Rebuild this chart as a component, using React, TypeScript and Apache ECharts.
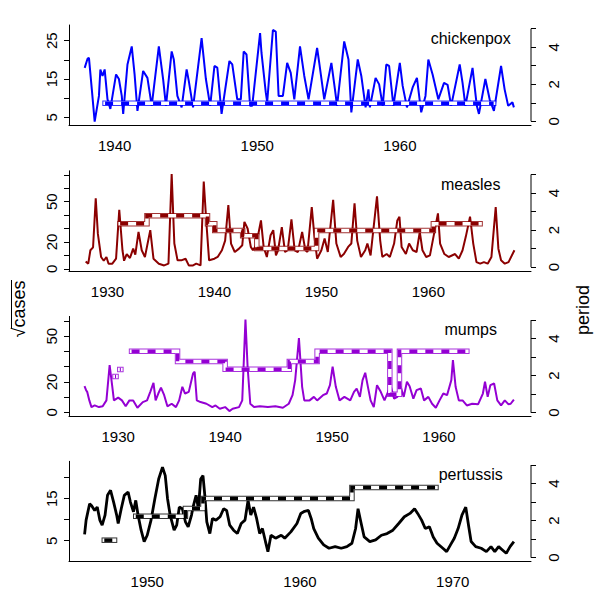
import React, { useEffect, useRef } from "react";
import * as echarts from "echarts";

// ---------- data (years, sqrt(cases)) ----------
const chickenpoxCases: number[][] = [
  [1937.9,17.9],[1938.1,20.3],[1938.2,20.5],[1938.4,12.3],[1938.6,3.9],[1938.9,10.6],[1939.0,17.5],[1939.15,15.8],[1939.3,17.5],[1939.5,9.7],[1939.7,7.2],[1940.1,16.2],[1940.3,15.0],[1940.5,10.6],[1940.6,5.9],[1940.9,18.8],[1941.2,23.5],[1941.4,16.2],[1941.6,6.7],[1942.0,17.1],[1942.3,15.3],[1942.6,8.0],[1943.1,23.5],[1943.4,15.0],[1943.6,8.0],[1944.0,22.2],[1944.15,20.1],[1944.4,10.6],[1944.7,7.6],[1945.05,17.5],[1945.2,14.5],[1945.5,7.6],[1946.1,25.7],[1946.4,15.0],[1946.7,8.0],[1947.0,18.4],[1947.2,18.0],[1947.5,5.9],[1948.05,19.7],[1948.25,18.8],[1948.6,9.7],[1948.85,9.7],[1949.05,22.2],[1949.25,21.4],[1949.5,8.0],[1949.65,8.0],[1950.2,27.0],[1950.3,21.8],[1950.6,11.5],[1950.7,9.0],[1951.1,27.8],[1951.3,27.4],[1951.5,10.6],[1951.8,10.6],[1952.1,19.2],[1952.35,16.6],[1952.6,9.7],[1953.0,23.5],[1953.3,15.8],[1953.6,9.7],[1954.2,23.1],[1954.35,19.2],[1954.7,9.7],[1955.2,19.2],[1955.45,12.3],[1955.6,8.0],[1956.1,24.8],[1956.4,20.1],[1956.6,6.3],[1957.05,20.1],[1957.3,15.8],[1957.6,7.6],[1957.8,12.3],[1957.9,7.6],[1958.3,15.3],[1958.55,13.6],[1958.8,8.0],[1959.05,18.8],[1959.25,18.4],[1959.55,8.0],[1960.0,19.2],[1960.2,13.2],[1960.5,7.6],[1960.9,12.8],[1961.2,15.3],[1961.5,6.3],[1961.8,10.6],[1962.0,20.1],[1962.3,16.2],[1962.7,9.7],[1963.1,14.0],[1963.35,13.5],[1963.6,8.0],[1964.2,18.8],[1964.4,14.0],[1964.6,8.0],[1965.1,17.9],[1965.4,8.0],[1965.55,5.9],[1966.0,15.0],[1966.3,9.7],[1966.6,6.7],[1967.1,18.4],[1967.35,12.3],[1967.6,8.0],[1967.9,8.9],[1968.0,7.6]
];
const measlesCases: number[][] = [
  [1927.96,5.5],[1928.2,3.8],[1928.4,13.8],[1928.65,16],[1928.9,52.5],[1929.1,26],[1929.4,8.8],[1929.65,6],[1929.9,8.8],[1930.1,3.8],[1930.45,3.8],[1930.8,7.5],[1931.1,44],[1931.4,13.8],[1931.55,6],[1931.8,11],[1932.1,8],[1932.4,15],[1932.6,10.5],[1932.9,27.5],[1933.2,13.8],[1933.5,8.8],[1934.0,28.8],[1934.3,7.5],[1934.8,3.8],[1935.3,2.5],[1935.7,3.8],[1936.0,70.5],[1936.25,18.8],[1936.55,6.3],[1936.9,6.3],[1937.3,7.5],[1937.6,2.5],[1938.0,2.5],[1938.3,3.8],[1938.7,2.5],[1939.0,65],[1939.25,33.8],[1939.5,6.3],[1940.0,7.5],[1940.3,8.8],[1940.7,13.8],[1941.0,21],[1941.3,47.5],[1941.55,18.8],[1941.9,12.5],[1942.3,15],[1942.6,17.5],[1942.8,35],[1943.1,30],[1943.4,16.3],[1943.6,13.8],[1943.9,17.5],[1944.35,36],[1944.6,16.3],[1944.9,8.8],[1945.25,25],[1945.5,28.8],[1945.75,10],[1945.95,13.8],[1946.3,31],[1946.6,12.5],[1946.85,13.8],[1947.2,36.8],[1947.5,13.8],[1947.8,12.5],[1948.2,27.5],[1948.5,13.8],[1948.7,12.5],[1949.1,46],[1949.35,23.8],[1949.6,7.5],[1950.0,13.8],[1950.3,22.5],[1950.6,12.5],[1951.1,51.3],[1951.4,18.8],[1951.8,8.8],[1952.1,11],[1952.5,16.3],[1952.8,18.8],[1953.1,48.8],[1953.35,21],[1953.7,8.8],[1954.1,13.8],[1954.3,18.8],[1954.6,10],[1955.2,54],[1955.5,21],[1955.7,8.8],[1956.1,11],[1956.4,8.8],[1956.8,18.8],[1957.1,36],[1957.3,38.8],[1957.5,16.3],[1957.9,11],[1958.2,18.8],[1958.55,13.8],[1958.9,12.5],[1959.2,27.5],[1959.45,13.8],[1959.8,8.8],[1960.15,10],[1960.6,28.8],[1960.9,41.3],[1961.1,18.8],[1961.5,11],[1961.9,8.8],[1962.5,11],[1962.85,7.5],[1963.2,13.8],[1963.5,23.8],[1963.9,38.8],[1964.2,18.8],[1964.5,5],[1964.85,3.8],[1965.2,5],[1965.55,3.8],[1965.9,8.8],[1966.3,46],[1966.55,15],[1966.8,6.3],[1967.15,3.8],[1967.5,5],[1968.05,13.8]
];
const mumpsCases: number[][] = [
  [1926.85,17.2],[1927.0,14.6],[1927.1,13.5],[1927.3,7.9],[1927.5,3.5],[1927.8,4.6],[1928.2,3.5],[1928.55,4],[1928.9,7.9],[1929.2,31.1],[1929.45,16.8],[1929.6,7.9],[1930.0,9.7],[1930.35,7.9],[1930.7,4],[1931.05,7.9],[1931.4,7.9],[1931.8,3.1],[1932.3,6.8],[1932.7,7.9],[1933.0,13.5],[1933.3,19.4],[1933.5,7.9],[1933.75,12.4],[1934.0,16.3],[1934.3,11.3],[1934.6,4],[1935.0,5.7],[1935.4,3.5],[1935.7,7.9],[1936.0,16.8],[1936.25,12.4],[1936.6,13.5],[1937.0,25.6],[1937.15,26.7],[1937.35,7.9],[1937.7,6.8],[1938.25,5.7],[1938.8,3.5],[1939.1,4.6],[1939.5,2.4],[1940.0,3.5],[1940.4,0.9],[1940.7,2.4],[1941.3,3.5],[1941.6,7.9],[1941.9,61],[1942.1,30],[1942.35,5.7],[1942.7,3.5],[1943.25,4],[1944.0,3.5],[1944.7,4],[1945.4,3.1],[1945.95,5.7],[1946.3,11.3],[1946.55,21.2],[1946.9,48.8],[1947.2,16.8],[1947.4,7.9],[1947.9,7.9],[1948.3,10.2],[1948.6,7.9],[1949.15,11.3],[1949.5,12.4],[1949.8,17.9],[1950.05,30],[1950.35,16.8],[1950.7,7.9],[1951.15,10.2],[1951.7,7.9],[1952.05,13.5],[1952.3,15.7],[1952.6,10.2],[1952.85,21.2],[1953.1,26],[1953.35,16.8],[1953.6,7.9],[1953.9,3.5],[1954.2,17.9],[1954.55,13.5],[1954.9,7.9],[1955.3,14.6],[1955.5,16.8],[1955.8,9],[1956.1,10.2],[1956.4,17.2],[1956.7,10.2],[1957.0,20.1],[1957.25,17.2],[1957.6,9],[1957.9,14.6],[1958.3,15.7],[1958.6,7.9],[1959.0,10.2],[1959.35,5.7],[1959.7,3.1],[1960.05,7.9],[1960.4,12.4],[1960.75,11.3],[1961.15,21.2],[1961.3,34.4],[1961.55,16.8],[1961.85,7.9],[1962.2,7.9],[1962.6,4.6],[1963.1,5.7],[1963.65,5.3],[1964.1,12.4],[1964.3,20.1],[1964.55,10.2],[1964.8,17.9],[1965.15,19],[1965.45,7.9],[1965.8,4.6],[1966.15,7.9],[1966.5,5.3],[1966.7,5.7],[1967.0,8.4]
];
const pertussisCases: number[][] = [
  [1945.9,6.5],[1946.0,9.9],[1946.23,13.8],[1946.35,13.4],[1946.56,12.2],[1946.73,13],[1946.9,9.9],[1947.05,8.7],[1947.24,11.1],[1947.4,15.8],[1947.6,17],[1947.8,14.2],[1948.0,11.1],[1948.1,9.1],[1948.3,12.6],[1948.5,15.8],[1948.75,16.6],[1948.9,14.2],[1949.1,11.9],[1949.25,14.6],[1949.4,11.1],[1949.6,7.5],[1949.8,4.8],[1950.0,6.3],[1950.25,9.9],[1950.5,15],[1950.75,19.7],[1951.0,22.5],[1951.18,20.5],[1951.33,15],[1951.5,11.1],[1951.76,7.5],[1951.93,8.7],[1952.1,13],[1952.3,12.6],[1952.5,9.5],[1952.68,8.3],[1952.9,11.1],[1953.0,13],[1953.2,15.8],[1953.35,12.6],[1953.5,19.7],[1953.65,20.5],[1953.77,15.8],[1953.9,9.5],[1954.1,6.7],[1954.27,10.3],[1954.5,9.9],[1954.77,10.7],[1955.0,12.6],[1955.2,12.2],[1955.4,8.7],[1955.65,7.5],[1955.9,6.7],[1956.15,9.1],[1956.4,9.9],[1956.6,14.6],[1956.78,11.1],[1956.96,13],[1957.16,10.3],[1957.36,6.7],[1957.54,7.9],[1957.74,4.8],[1957.9,2.4],[1958.1,6.3],[1958.4,5.6],[1958.77,6.3],[1959.0,5.6],[1959.4,7.1],[1959.8,9.1],[1960.05,11.5],[1960.3,12],[1960.55,12.2],[1960.73,10.3],[1960.9,7.9],[1961.2,5.6],[1961.55,4],[1961.9,3.2],[1962.3,3.6],[1962.7,3.2],[1963.07,3.6],[1963.4,4.4],[1963.64,7.9],[1963.8,12.6],[1963.98,9.5],[1964.2,5.9],[1964.57,4.8],[1964.95,5.2],[1965.33,6.3],[1965.7,6.7],[1966.08,7.5],[1966.46,9.1],[1966.83,10.7],[1967.2,11.5],[1967.5,12.6],[1967.7,11.5],[1967.96,9.9],[1968.2,7.9],[1968.47,8.3],[1968.72,5.9],[1968.97,4.4],[1969.35,3.2],[1969.6,2.4],[1969.85,4],[1970.1,5.6],[1970.35,7.9],[1970.6,11.1],[1970.85,13],[1971.03,8.7],[1971.2,4.8],[1971.5,3.6],[1971.86,3.2],[1972.2,2.4],[1972.5,3.6],[1972.75,2.4],[1973.0,3.6],[1973.25,2.8],[1973.5,2],[1973.75,3.6],[1974.0,4.8]
];

// ---------- dominant period steps: [start year, end year, period] ----------
const chickenpoxPeriod: number[][] = [[1939.33, 1966.58, 0.97]];
const measlesPeriod: number[][] = [
  [1931.18, 1933.69, 2.34], [1933.69, 1939.35, 2.77], [1939.35, 1940.03, 2.34],
  [1940.03, 1942.64, 1.98], [1942.64, 1943.96, 1.69], [1943.96, 1949.55, 1.0],
  [1949.55, 1960.47, 1.98], [1960.47, 1964.84, 2.34]
];
const mumpsPeriod: number[][] = [
  [1929.7, 1929.8, 1.95], [1930.15, 1930.25, 2.33],
  [1931.25, 1935.55, 3.32], [1935.55, 1940.0, 2.77], [1940.0, 1946.0, 2.35],
  [1946.0, 1948.6, 2.77], [1948.6, 1955.4, 3.32], [1955.4, 1956.3, 0.99],
  [1956.3, 1962.6, 3.32]
];
const pertussisPeriod: number[][] = [
  [1947.19, 1947.86, 0.94],
  [1949.25, 1952.5, 2.23], [1952.5, 1953.65, 2.65], [1953.65, 1963.4, 3.19],
  [1963.4, 1968.9, 3.78]
];

const diseaseNames = ["chickenpox", "measles", "mumps", "pertussis"];
const diseaseColors = ["#0000FF", "#8B0000", "#9400D3", "#000000"];
const casesData = [chickenpoxCases, measlesCases, mumpsCases, pertussisCases];
const periodData = [chickenpoxPeriod, measlesPeriod, mumpsPeriod, pertussisPeriod];
const xRanges = [[1936.8, 1969.2], [1926.4, 1969.6], [1925.4, 1968.6], [1944.88, 1975.12]];
const yRanges = [[3.0, 29.1], [-1.5, 73], [-2.6, 63], [0.1, 23.9]];
const xLabels = [[1940, 1950, 1960], [1930, 1940, 1950, 1960], [1930, 1940, 1950, 1960], [1950, 1960, 1970]];
const yTicks = [[5, 10, 15, 20, 25], [0, 10, 20, 30, 40, 50, 60, 70], [0, 10, 20, 30, 40, 50, 60], [5, 10, 15, 20]];
const yLabels = [[5, 15, 25], [0, 20, 50], [0, 20, 50], [5, 15]];
const periodTicks = [0, 1, 2, 3, 4, 5];
const periodLabels = [0, 2, 4];
const periodRange = [-0.2, 5.2];

const FONT = "Liberation Sans, Arial, Helvetica, sans-serif";
const GRID_LEFT = 69;
const GRID_WIDTH = 462;
const GRID_TOPS = [25, 170.8, 316.4, 461.3];
const GRID_HEIGHT = 100;

function stepGroups(segs: number[][]): number[][][] {
  const groups: number[][][] = [];
  let cur: number[][] = [];
  segs.forEach((s, i) => {
    const [a, b, v] = s;
    if (i > 0 && Math.abs(segs[i - 1][1] - a) < 1e-9) {
      cur.push([a, v], [b, v]);
    } else {
      if (cur.length) groups.push(cur);
      cur = [[a, v], [b, v]];
    }
  });
  if (cur.length) groups.push(cur);
  return groups;
}

const plain = (v: number) => String(v);

function buildOption() {
  const grid: any[] = [];
  const xAxis: any[] = [];
  const yAxis: any[] = [];
  const series: any[] = [];
  const graphic: any[] = [];

  for (let i = 0; i < 4; i++) {
    const color = diseaseColors[i];
    grid.push({ left: GRID_LEFT, width: GRID_WIDTH, top: GRID_TOPS[i], height: GRID_HEIGHT });
    xAxis.push({
      type: "value", gridIndex: i, min: xRanges[i][0], max: xRanges[i][1],
      axisLine: { show: true, onZero: false, lineStyle: { color: "#000", width: 1 } },
      axisTick: { show: false },
      splitLine: { show: false },
      axisLabel: { customValues: xLabels[i], formatter: plain, fontSize: 15, color: "#000", margin: 13, fontFamily: FONT },
    });
    yAxis.push({
      type: "value", gridIndex: i, position: "left", min: yRanges[i][0], max: yRanges[i][1],
      axisLine: { show: true, onZero: false, lineStyle: { color: "#000", width: 1 } },
      axisTick: { show: true, length: 5, customValues: yTicks[i], lineStyle: { color: "#000" } },
      splitLine: { show: false },
      axisLabel: { customValues: yLabels[i], formatter: plain, rotate: 90, fontSize: 15, color: "#000", margin: 10, fontFamily: FONT },
    });
    yAxis.push({
      type: "value", gridIndex: i, position: "right", min: periodRange[0], max: periodRange[1],
      axisLine: { show: false },
      axisTick: { show: true, length: 5, customValues: periodTicks, lineStyle: { color: "#000" } },
      splitLine: { show: false },
      axisLabel: { customValues: periodLabels, formatter: plain, rotate: 90, fontSize: 15, color: "#000", margin: 15, fontFamily: FONT },
    });
    const leftY = i * 2;
    const rightY = i * 2 + 1;
    // right axis line from period 0 to 5
    series.push({
      type: "line", xAxisIndex: i, yAxisIndex: rightY, clip: false, silent: true,
      data: [[xRanges[i][1], periodTicks[0]], [xRanges[i][1], periodTicks[periodTicks.length - 1]]],
      symbol: "none", lineStyle: { color: "#000", width: 1 }, z: 1,
    });
    // cases series
    series.push({
      type: "line", xAxisIndex: i, yAxisIndex: leftY, data: casesData[i], symbol: "none",
      lineStyle: { color, width: i === 3 ? 2.8 : 2 }, z: 2,
    });
    // period step band
    stepGroups(periodData[i]).forEach((g) => {
      series.push({
        type: "line", xAxisIndex: i, yAxisIndex: rightY, data: g, symbol: "none",
        lineStyle: { color, width: 5.5, cap: "square", join: "miter", opacity: 0.8 }, z: 3,
      });
      series.push({
        type: "line", xAxisIndex: i, yAxisIndex: rightY, data: g, symbol: "none",
        lineStyle: { color: "#ffffff", width: 3.5, cap: "square", join: "miter" }, z: 4,
      });
      series.push({
        type: "line", xAxisIndex: i, yAxisIndex: rightY, data: g, symbol: "none",
        lineStyle: { color, width: 3.5, type: [8, 8], cap: "butt", join: "miter" }, z: 5,
      });
    });
    graphic.push({
      type: "text", x: 470.7, y: GRID_TOPS[i] + 13.5, z: 10,
      style: { text: diseaseNames[i], fontSize: 16, fontFamily: FONT, fill: "#000", align: "center", verticalAlign: "middle" },
    });
  }

  graphic.push({
    type: "text", x: 19, y: 309, rotation: Math.PI / 2, z: 10,
    style: { text: "√cases", fontSize: 18, fontFamily: FONT, fill: "#000", align: "center", verticalAlign: "middle" },
  });
  // overline of the square root
  graphic.push({
    type: "line", z: 10,
    shape: { x1: 11.5, y1: 280, x2: 11.5, y2: 328.5 },
    style: { stroke: "#000", lineWidth: 1 },
  });
  graphic.push({
    type: "text", x: 583, y: 310, rotation: Math.PI / 2, z: 10,
    style: { text: "period", fontSize: 18, fontFamily: FONT, fill: "#000", align: "center", verticalAlign: "middle" },
  });

  return { animation: false, backgroundColor: "#ffffff", grid, xAxis, yAxis, series, graphic };
}

export default function App() {
  const ref = useRef<HTMLDivElement | null>(null);
  useEffect(() => {
    if (!ref.current) return;
    const chart = echarts.init(ref.current, null, { renderer: "svg" });
    chart.setOption(buildOption() as any);
    return () => chart.dispose();
  }, []);
  return <div ref={ref} style={{ position: "absolute", left: 0, top: 0, width: 600, height: 598 }} />;
}
